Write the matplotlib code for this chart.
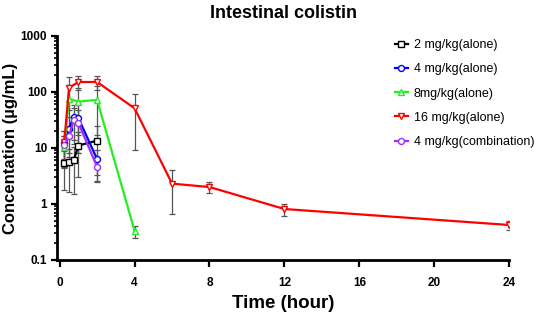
import numpy as np
import matplotlib
matplotlib.use('Agg')
import matplotlib.pyplot as plt
from matplotlib.ticker import LogLocator, NullFormatter, FixedLocator

plt.rcParams['font.family'] = ['Liberation Sans', 'DejaVu Sans']

# data (mean, SD) in ug/mL
t_2 = [0.25, 0.5, 0.75, 1, 2]
c_2 = [5.3, 5.6, 6.0, 11, 13.5]
sd_2 = [3.5, 4.0, 4.5, 8, 11]

t_4 = [0.25, 0.5, 0.75, 1, 2]
c_4 = [12.4, 22, 36, 34, 6.3]
sd_4 = [8, 14, 22, 26, 3]

t_8 = [0.25, 0.5, 1, 2, 4]
c_8 = [10.5, 75, 67, 72, 0.33]
sd_8 = [6, 60, 50, 55, 0.08]

t_16 = [0.25, 0.5, 1, 2, 4, 6, 8, 12, 24]
c_16 = [12.9, 118, 150, 150, 51, 2.3, 2.0, 0.81, 0.42]
sd_16 = [7, 70, 40, 40, 42, 1.65, 0.45, 0.19, 0.08]

t_4c = [0.25, 0.5, 0.75, 1, 2]
c_4c = [11.3, 16, 31.6, 28, 4.6]
sd_4c = [5, 9, 20, 20, 2]

labels = ['2 mg/kg(alone)', '4 mg/kg(alone)', '8mg/kg(alone)',
          '16 mg/kg(alone)', '4 mg/kg(combination)']
colors = ['black', '#0000ff', '#22ee22', '#ff0000', '#a030f0']
markers = ['s', 'o', '^', 'v', 'o']
series = [(t_2, c_2, sd_2), (t_4, c_4, sd_4), (t_8, c_8, sd_8),
          (t_16, c_16, sd_16), (t_4c, c_4c, sd_4c)]

fig = plt.figure(figsize=(5.36, 3.12), dpi=100)
ax = fig.add_axes([0.106, 0.167, 0.844, 0.718])

for (t, c, sd), lab, col, mk in zip(series, labels, colors, markers):
    t = np.array(t)
    c = np.array(c)
    sd = np.array(sd)
    ax.errorbar(t, c, yerr=sd, fmt='none', ecolor='#555555', elinewidth=0.9,
                capsize=2.2, capthick=0.9, zorder=2)
    ax.plot(t, c, color=col, lw=1.6, marker=mk, ms=4.3, mfc='white', mec=col,
            mew=1.0, label=lab, zorder=3)

ax.set_yscale('log')
ax.set_ylim(0.1, 1000)
ax.set_xlim(-0.15, 24)
ax.xaxis.set_major_locator(FixedLocator([0, 4, 8, 12, 16, 20, 24]))
ax.yaxis.set_minor_locator(LogLocator(base=10, subs=np.arange(2, 10), numticks=10))
ax.yaxis.set_minor_formatter(NullFormatter())
ax.set_yticks([0.1, 1, 10, 100, 1000])
ax.set_yticklabels(['0.1', '1', '10', '100', '1000'])

for s in ['top', 'right']:
    ax.spines[s].set_visible(False)
for s in ['left', 'bottom']:
    ax.spines[s].set_linewidth(2)

ax.tick_params(axis='x', which='major', direction='out', length=5, width=1.6,
               labelsize=8.5, pad=7.5)
ax.tick_params(axis='y', which='major', direction='out', length=4.5, width=1.6,
               labelsize=8.5, pad=2.5)
ax.tick_params(axis='y', which='minor', direction='out', length=2.5, width=1.2)
for lbl in ax.get_xticklabels() + ax.get_yticklabels():
    lbl.set_fontweight('bold')

ax.set_xlabel('Time (hour)', fontsize=13.5, fontweight='bold', labelpad=4)
ax.set_ylabel('Concentation (µg/mL)', fontsize=12, fontweight='bold', labelpad=2)
ax.set_title('Intestinal colistin', fontsize=13, fontweight='bold', pad=13)

ax.legend(loc='upper left', bbox_to_anchor=(395 / 536, 1 - 39 / 312),
          bbox_transform=fig.transFigure, borderpad=0, borderaxespad=0,
          frameon=False, fontsize=9, handlelength=1.0, labelspacing=0.98,
          handletextpad=0.5)

fig.savefig('out.png', dpi=100)
